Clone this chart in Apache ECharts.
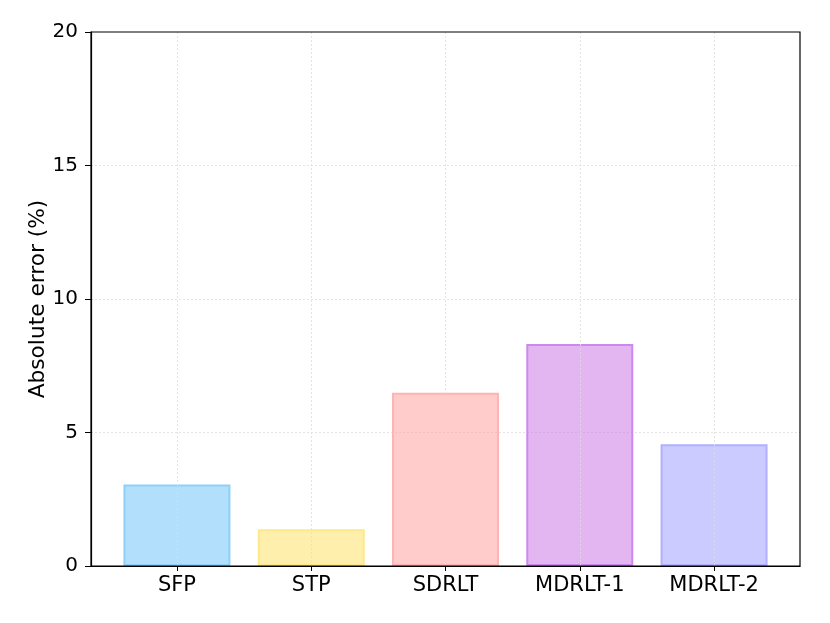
<!DOCTYPE html>
<html><head><meta charset="utf-8">
<script src="https://cdn.jsdelivr.net/npm/echarts@6/dist/echarts.min.js"></script>
<style>html,body{margin:0;padding:0;background:#fff}#c{width:830px;height:623px}</style>
</head><body><div id="c"></div>
<script>
const categories = ['SFP', 'STP', 'SDRLT', 'MDRLT-1', 'MDRLT-2'];
const values = [3.05, 1.38, 6.49, 8.31, 4.56];
const fillColors = ['rgba(135,206,250,0.65)', 'rgba(255,230,128,0.65)', 'rgba(255,160,160,0.55)', 'rgba(204,120,230,0.55)', 'rgba(160,160,255,0.55)'];
const edgeColors = ['#8fd0fa', '#ffe88a', '#ffb4b4', '#cc88ee', '#b0b0ff'];
const font = 'DejaVu Sans';
const idx = categories.map((c, i) => i);
const chart = echarts.init(document.getElementById('c'));
chart.setOption({
  animation: false,
  backgroundColor: '#fff',
  grid: {left: 91, right: 30, top: 32, bottom: 57, show: true, borderColor: '#000', borderWidth: 1.2, backgroundColor: 'transparent', z: 10},
  xAxis: {
    type: 'value', min: -0.64, max: categories.length - 1 + 0.64,
    axisLine: {show: true, onZero: false, lineStyle: {color: '#000', width: 1.2}},
    axisTick: {show: true, customValues: idx, length: 5, lineStyle: {color: '#000'}},
    axisLabel: {color: '#000', fontFamily: font, fontSize: 21, margin: 9, customValues: idx,
      formatter: v => categories[Math.round(v)] || ''},
    splitLine: {show: false}
  },
  yAxis: {
    type: 'value', min: 0, max: 20, interval: 5,
    name: 'Absolute error (%)', nameLocation: 'middle', nameGap: 42, nameMoveOverlap: false,
    nameTextStyle: {color: '#000', fontFamily: font, fontSize: 21.7},
    axisLine: {show: true, onZero: false, lineStyle: {color: '#000', width: 1.2}},
    axisTick: {show: true, length: 6, lineStyle: {color: '#000'}},
    axisLabel: {color: '#000', fontFamily: font, fontSize: 20, margin: 13},
    splitLine: {show: true, showMinLine: false, showMaxLine: false, lineStyle: {color: '#ddd', type: [2, 2], width: 0.8}}
  },
  series: [{
    type: 'bar', barWidth: 107,
    data: values.map((v, i) => ({value: [i, v], itemStyle: {color: fillColors[i], borderColor: edgeColors[i], borderWidth: 2}})),
    markLine: {
      silent: true, symbol: 'none', label: {show: false},
      lineStyle: {color: '#ddd', type: [2, 2], width: 0.8},
      data: idx.map(i => ({xAxis: i}))
    }
  }]
});
</script></body></html>
